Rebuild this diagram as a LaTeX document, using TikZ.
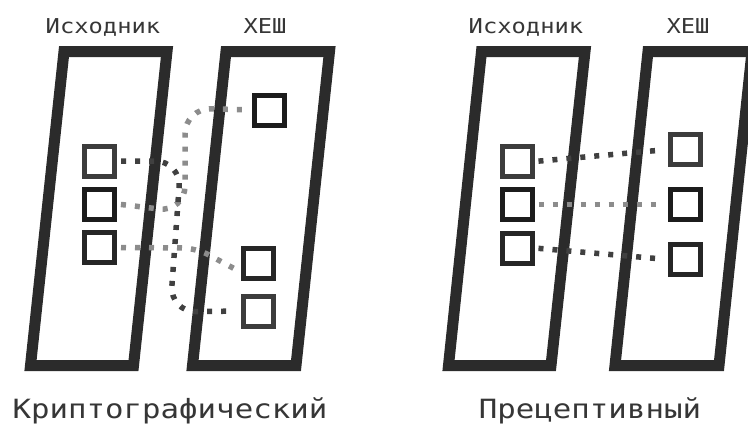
\documentclass[tikz,border=0pt]{standalone}
\usepackage{fontspec}
\newfontfamily\pixfont{DejaVu Sans Mono}[FakeStretch=1.16]
\usepackage{tikz}
\usetikzlibrary{positioning}

\definecolor{framegray}{HTML}{2B2B2B}
\definecolor{boxlight}{HTML}{3C3C3C}
\definecolor{boxdark}{HTML}{1C1C1C}
\definecolor{boxmid}{HTML}{262626}
\definecolor{dotdark}{HTML}{404040}
\definecolor{dotlight}{HTML}{8C8C8C}
\definecolor{textgray}{HTML}{363636}

\begin{document}
\begin{tikzpicture}
 [ x=1pt, y=-1pt
 , frame/.style={line width=11pt, draw=framegray}
 , cell/.style={draw, line width=5pt, minimum size=30pt, inner sep=0pt, fill=white}
 , light/.style={cell, draw=boxlight}
 , dark/.style={cell, draw=boxdark}
 , mid/.style={cell, draw=boxmid}
 , link/.style={line width=5.5pt, dash pattern=on 5pt off 9pt, shorten <=4pt, shorten >=6pt}
 , link dark/.style={link, draw=dotdark}
 , link light/.style={link, draw=dotlight}
 , title/.style={anchor=base, text=textgray, font=\pixfont\fontsize{20.5}{22}\selectfont}
 , caption/.style={anchor=base, text=textgray, font=\pixfont\fontsize{26.5}{30}\selectfont}
 ]
  \useasboundingbox (0,0) rectangle (748,426);

  % cryptographic
  \draw [frame] (64,51.5) -- (167,51.5) -- (133.5,365.5) -- (30.5,365.5) -- cycle;
  \draw [frame] (226,51.5) -- (329.5,51.5) -- (296,365.5) -- (192.5,365.5) -- cycle;
  \node [title] (srcA) at (103,33) {Исходник};
  \node [title] (hashA) at (265,33) {ХЕШ};
  \node [caption] (kindA) at (170,418) {Криптографический};

  \node [light] (a1) at (99.5,161) {};
  \node [dark]  (a2) at (99.5,204) {};
  \node [mid]   (a3) at (99.5,247.5) {};
  \node [dark]  (b1) at (269,110) {};
  \node [mid]   (b2) at (258,263) {};
  \node [light] (b3) at (258,311) {};

  \draw [link light, rounded corners=14pt] (a3.east) -- (196,248) -- ([yshift=-9pt]b2.west);
  \draw [link light, rounded corners=26pt] (a2.east) -- (185,212) -- (185,108) -- (b1.west);
  \draw [link dark, rounded corners=26pt] (a1.east) -- (181,161) -- (170,312) -- (b3.west);

  % preceptive
  \draw [frame] (481.5,51.5) -- (585,51.5) -- (551,365.5) -- (448.5,365.5) -- cycle;
  \draw [frame] (648,51.5) -- (752,51.5) -- (719,365.5) -- (615,365.5) -- cycle;
  \node [title] (srcB) at (526,33) {Исходник};
  \node [title] (hashB) at (688,33) {ХЕШ};
  \node [caption] (kindB) at (590,418) {Прецептивный};

  \node [light] (c1) at (517,161.5) {};
  \node [dark]  (c2) at (517,204.5) {};
  \node [mid]   (c3) at (517,248) {};
  \node [light] (d1) at (685.5,149.5) {};
  \node [dark]  (d2) at (685.5,204.5) {};
  \node [mid]   (d3) at (685.5,259.5) {};

  \draw [link dark] (c1.east) -- (d1.west);
  \draw [link light] (c2.east) -- (d2.west);
  \draw [link dark] (c3.east) -- (d3.west);
\end{tikzpicture}
\end{document}
